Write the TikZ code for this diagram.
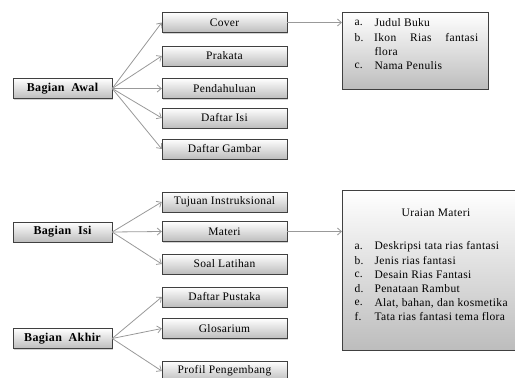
\documentclass[tikz,border=0pt]{standalone}
\usepackage{fontspec}
\setmainfont{Liberation Serif}[LetterSpace=3]
\usetikzlibrary{shadows}
\usetikzlibrary{arrows.meta}

\begin{document}
\begin{tikzpicture}[x=1pt,y=-1pt,
  font=\fontsize{11.5}{14}\selectfont,
  box/.style={draw=black!75,top color=white,bottom color=black!26,
    drop shadow={opacity=0.35,shadow xshift=1.2pt,shadow yshift=-1.2pt},
    minimum width=125pt,minimum height=20pt,inner sep=0pt},
  part/.style={box,minimum width=99pt,font=\fontsize{12}{14}\selectfont\bfseries},
  listbox/.style={draw=black!75,top color=white,bottom color=black!26,
    drop shadow={opacity=0.35,shadow xshift=1.2pt,shadow yshift=-1.2pt},
    anchor=north west,inner sep=0pt},
  link/.style={draw=black!40,line width=0.8pt,-{Straight Barb[length=4pt,width=7pt]}}]
\useasboundingbox (0,0) rectangle (515,378);

% bagian awal
\node[part] (awal) at (62.5,88.5) {Bagian\ \ Awal};
\foreach \name/\y/\txt in {cover/22.5/Cover, prakata/56/Prakata,
  pendahuluan/88.5/Pendahuluan, isi/118/Daftar Isi, gambar/149/Daftar Gambar}
{
\node[box] (\name) at (224.5,\y) {\txt};
\draw[link] (awal.east) -- (\name.west);
}
\node[listbox,minimum width=146pt,minimum height=77pt] (coverlist) at (342,12) {};
\draw[link] (cover.east) -- (cover.east -| coverlist.west);
\foreach \name/\y/\lbl in {ja/23/a., jb/38/b., jc/66/c.}
\node[anchor=west] (\name) at (351,\y) {\lbl};
\node[anchor=west] (judul) at (371,23) {Judul Buku};
\node[anchor=west,inner xsep=3pt] (ikon) at (371,38) {\makebox[104pt][s]{Ikon\hfill Rias\hfill fantasi}};
\node[anchor=west] (flora) at (371,52) {flora};
\node[anchor=west] (penulis) at (371,66) {Nama Penulis};

% bagian isi
\node[part] (bisi) at (62.5,232) {Bagian\ \ Isi};
\foreach \name/\y/\txt in {tujuan/202/Tujuan Instruksional, materi/231.5/Materi,
  soal/264/Soal Latihan}
{
\node[box] (\name) at (224.5,\y) {\txt};
\draw[link] (bisi.east) -- (\name.west);
}
\node[listbox,minimum width=176pt,minimum height=160pt] (uraian) at (342,190) {};
\draw[link] (materi.east) -- (materi.east -| uraian.west);
\node (judulmateri) at (436,213) {Uraian Materi};
\foreach \name/\y/\lbl/\txt in {ua/247/a./Deskripsi tata rias fantasi,
  ub/261/b./Jenis rias fantasi, uc/275/c./Desain Rias Fantasi,
  ud/289/d./Penataan Rambut, ue/303/e./{Alat, bahan, dan kosmetika},
  uf/317/f./Tata rias fantasi tema flora}
{
\node[anchor=west] (\name) at (351,\y) {\lbl};
\node[anchor=west] (\name txt) at (371,\y) {\txt};
}

% bagian akhir
\node[part] (akhir) at (62.5,338.5) {Bagian\ \ Akhir};
\foreach \name/\y/\txt in {pustaka/297/Daftar Pustaka, glosarium/328.5/Glosarium,
  profil/371/Profil Pengembang}
{
\node[box] (\name) at (224.5,\y) {\txt};
\draw[link] (akhir.east) -- (\name.west);
}
\end{tikzpicture}
\end{document}
